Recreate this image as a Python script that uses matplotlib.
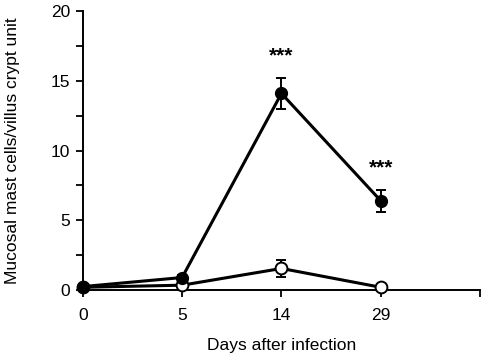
import numpy as np
import matplotlib.pyplot as plt

plt.rcParams['font.family'] = ['Liberation Sans', 'DejaVu Sans']

days = ['0', '5', '14', '29']
infected = [0.25, 0.9, 14.1, 6.4]
infected_err = [0.0, 0.2, 1.1, 0.8]
control = [0.2, 0.35, 1.55, 0.2]
control_err = [0.0, 0.0, 0.6, 0.0]
stars = ['', '', '***', '***']

x = np.arange(len(days))

fig = plt.figure(figsize=(4.84, 3.59), dpi=100)
ax = fig.add_axes([0.171, 0.192, 0.821, 0.777])

ax.errorbar(x, control, yerr=control_err, color='black', lw=2.2, marker='o',
            ms=8.5, mfc='white', mec='black', mew=1.4, capsize=3.5, elinewidth=1.4,
            capthick=1.4, clip_on=False, zorder=3)
ax.errorbar(x, infected, yerr=infected_err, color='black', lw=2.2, marker='o',
            ms=8.5, mfc='black', mec='black', capsize=3.5, elinewidth=1.4,
            capthick=1.4, clip_on=False, zorder=4)

for xi, yi, e, s in zip(x, infected, infected_err, stars):
    if s:
        ax.text(xi, yi + e + 0.9, s, ha='center', va='bottom', fontsize=15,
                fontweight='bold')

ax.set_xlim(0, 4)
ax.set_ylim(0, 20)
ax.set_xticks(list(x) + [4])
ax.set_xticklabels(days + [''])
ax.set_yticks([0, 5, 10, 15, 20])
ax.set_yticks(np.arange(2.5, 20, 5), minor=True)
ax.tick_params(axis='both', labelsize=12.5, length=5, width=1.3, direction='out', pad=4)
ax.tick_params(axis='x', pad=8)
ax.tick_params(axis='y', which='minor', length=5, width=1.3)
ax.spines['top'].set_visible(False)
ax.spines['right'].set_visible(False)
ax.spines['left'].set_linewidth(1.4)
ax.spines['bottom'].set_linewidth(1.4)
ax.set_xlabel('Days after infection', fontsize=12.5, labelpad=11)
ax.set_ylabel('Mucosal mast cells/villus crypt unit', fontsize=12.5, labelpad=22)

plt.savefig('out.png', dpi=100)
